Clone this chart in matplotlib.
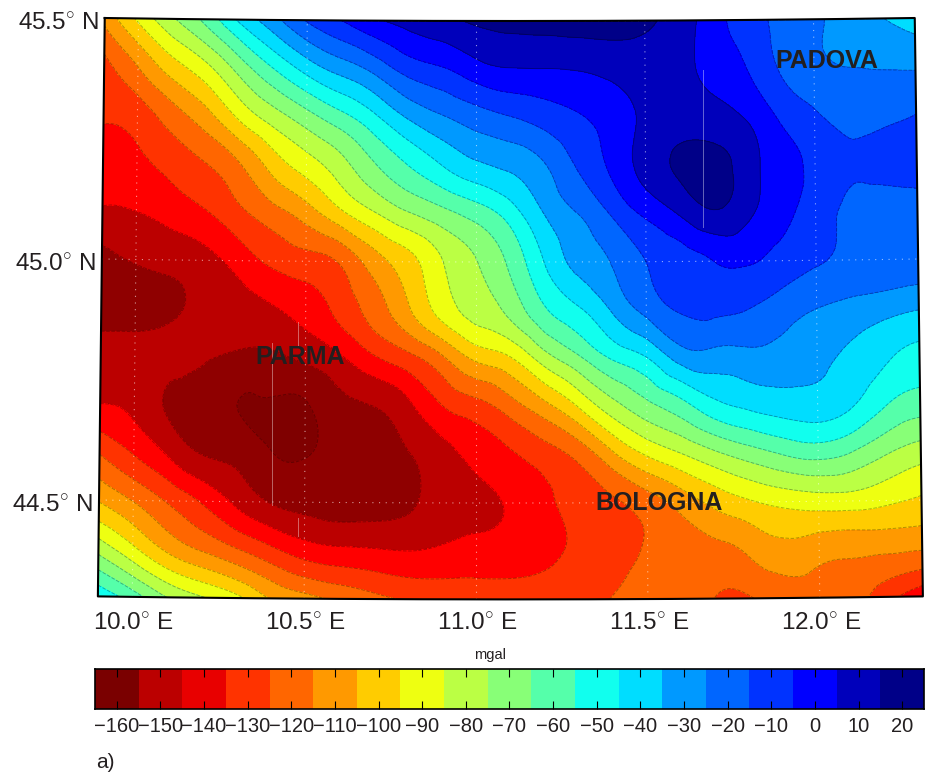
import numpy as np
import matplotlib
matplotlib.use('Agg')
import matplotlib.pyplot as plt
from matplotlib.tri import Triangulation, UniformTriRefiner

plt.rcParams['font.family'] = ['Liberation Sans', 'DejaVu Sans']
plt.rcParams['mathtext.fontset'] = 'custom'
plt.rcParams['mathtext.rm'] = 'Liberation Sans'

# Grid, mgal
lons = [9.9, 10.0, 10.1, 10.2, 10.3, 10.4, 10.5, 10.6, 10.7, 10.8, 10.9, 11.0, 11.1,
        11.2, 11.3, 11.4, 11.5, 11.6, 11.7, 11.8, 11.9, 12.0, 12.1, 12.2, 12.3]
lats = [45.5, 45.4, 45.3, 45.2, 45.1, 45.0, 44.9, 44.8, 44.7, 44.6, 44.5, 44.4, 44.3]

row_455 = [-112, -93, -76.5, -62, -43, -28.5, -14, -5, 3.5, 8.5, 12.5, 16.5, 18, 19, 20, 19, 17, 10, 0, -11, -17, -23, -29, -34.5, -40]
row_454 = [-128, -115, -100, -88, -71, -55, -41, -31, -22, -11, -6, 1, 4.5, 4.8, 5.5, 8, 10, 8, 2, -5, -16, -23, -25, -25.5, -26]
row_453 = [-134, -130.5, -120, -109, -93, -80, -69, -58.5, -47, -34, -26, -20, -15.5, -11, -6, -1, 7, 10.5, 9, 4, -6.5, -13.5, -19, -18, -15]
row_452 = [-140, -137, -132, -125.5, -116, -101, -90, -79, -66, -55, -45, -37, -33, -26, -14, -3, 9, 16.5, 18, 10, -1, -7, -13, -11, -9]
row_451 = [-146, -145, -141, -136, -127.5, -119, -110, -97.5, -86, -76, -68.5, -61, -50.5, -35, -25, -14, -3, 6, 14, 7, -1.5, -10.5, -17, -20, -20]
row_450 = [-158, -154, -152, -148.5, -141, -133, -129, -124, -110, -99, -85.5, -75.5, -63, -45, -32, -24.5, -15, -10, -5, -4, -9, -14, -17, -18, -19]
row_449 = [-159, -158.5, -156.5, -153, -150, -146, -141, -132, -120.5, -106.5, -91, -81, -72, -56.5, -46.5, -34, -22, -14, -12.5, -15, -20, -25, -28, -31, -34]
row_448 = [-152, -152, -153, -154, -156.5, -157, -153, -146.5, -136.5, -128.5, -117, -103, -96, -80, -67, -54, -45.5, -31, -29, -28, -29, -33, -37, -43.5, -48]
row_447 = [-145, -148, -156, -159, -165, -166, -166, -158, -155, -147.5, -135.5, -129, -120, -108.5, -94.5, -79, -68, -59, -48, -43, -40, -39, -44, -54.5, -60]
row_446 = [-126, -136, -146.5, -155.5, -158, -164.5, -165.5, -161, -158, -155.5, -149, -142, -136.5, -130, -122, -107, -94, -85.5, -77, -70, -64, -61, -65.5, -74, -80]
row_445 = [-106, -115.5, -126, -136, -147, -155.5, -158.5, -160, -159, -156.5, -151, -147, -144, -137.5, -131, -126.5, -120, -111, -102, -96, -92, -90, -90, -93, -96.5]
row_444 = [-79, -93, -107, -116, -124, -132.5, -140, -143, -144, -145, -143.5, -142, -141, -137.5, -133, -128.5, -124, -120, -118, -113, -108, -111, -112.5, -113, -114]
row_443 = [-48, -60, -75, -84, -92, -105.5, -111.5, -117, -122, -126, -127.5, -128, -129, -129, -128, -124.5, -121, -119, -125.5, -125.5, -120, -119, -121, -132, -142]

grid_rows = [row_455, row_454, row_453, row_452, row_451, row_450, row_449,
             row_448, row_447, row_446, row_445, row_444, row_443]

# Contour levels and colours
map_levels = [-175, -165, -155, -145, -135, -125, -115, -105, -95, -85, -75, -65, -55,
              -45, -35, -25, -15, -5, 5, 15, 25]
map_colors = ['#7f0000', '#8f0000', '#bb0000', '#ff0000', '#ff3300', '#ff6600', '#ff9900',
              '#ffcc00', '#eeff11', '#bbff44', '#88ff77', '#55ffaa', '#11ffee', '#00ddff',
              '#0099ff', '#0066ff', '#0033ff', '#0000ff', '#0000bb', '#000088']

bar_ticks = [-160, -150, -140, -130, -120, -110, -100, -90, -80, -70, -60, -50, -40,
             -30, -20, -10, 0, 10, 20]
bar_colors = ['#7a0000', '#bb0000', '#e80000', '#ff3300', '#ff6600', '#ff9900', '#ffcc00',
              '#eeff11', '#bbff44', '#88ff77', '#55ffaa', '#11ffee', '#00ddff', '#0099ff',
              '#0066ff', '#0033ff', '#0000ff', '#0000bb', '#000088']

grid_lons = [10.0, 10.5, 11.0, 11.5, 12.0]
grid_lats = [44.5, 45.0, 45.5]


def project(lon, lat):
    # conic-looking map projection, result in figure pixels
    lon = np.asarray(lon, dtype=float)
    lat = np.asarray(lat, dtype=float)
    x = 476 + (lon - 11) * (343.75 - 5.2 * (lat - 44.3))
    y = 259 + 3 * (1 - ((lon - 11.1) / 1.2) ** 2) - (lat - 45) * 482
    return x, y


fig = plt.figure(figsize=(9.28, 7.78), dpi=100)
ax = fig.add_axes([0, 0, 1, 1])
ax.set_xlim(0, 928)
ax.set_ylim(778, 0)
ax.axis('off')

lon2d, lat2d = np.meshgrid(lons, lats)
Z = np.array(grid_rows)

# smooth contouring on the lon/lat grid, then put the mesh on the map
tri = Triangulation(lon2d.ravel(), lat2d.ravel())
tri_fine, z_fine = UniformTriRefiner(tri).refine_field(Z.ravel(), subdiv=3)
px, py = project(tri_fine.x, tri_fine.y)
tri_map = Triangulation(px, py, tri_fine.triangles)

ax.tricontourf(tri_map, z_fine, levels=map_levels, colors=map_colors)
ax.tricontour(tri_map, z_fine, levels=map_levels[1:-1], colors='k', linewidths=0.7, alpha=0.3)

# dotted graticule
for lon in grid_lons:
    la = np.linspace(lats[-1], lats[0], 50)
    px, py = project(np.full_like(la, lon), la)
    ax.plot(px, py, color='white', lw=0.8, ls=(0, (1, 5)), alpha=0.6)
for lat in grid_lats:
    lo = np.linspace(lons[0], lons[-1], 80)
    px, py = project(lo, np.full_like(lo, lat))
    ax.plot(px, py, color='white', lw=0.8, ls=(0, (1, 5)), alpha=0.6)

# thin seams in the filled contours
ax.plot([703, 703], [70, 227], color='white', lw=0.7, alpha=0.4)
ax.plot([272, 272], [343, 505], color='white', lw=0.7, alpha=0.4)
ax.plot([298, 298], [322, 345], color='white', lw=0.7, alpha=0.4)
ax.plot([298, 298], [518, 536], color='white', lw=0.7, alpha=0.4)

# map frame
lo = np.linspace(lons[0], lons[-1], 80)
la = np.linspace(lats[-1], lats[0], 30)
edge_lon = np.concatenate([lo, np.full_like(la, lons[-1]), lo[::-1], np.full_like(la, lons[0])])
edge_lat = np.concatenate([np.full_like(lo, lats[0]), la[::-1], np.full_like(lo, lats[-1]), la])
px, py = project(edge_lon, edge_lat)
ax.plot(px, py, color='k', lw=1.5)

# axis labels
for lon in grid_lons:
    px, py = project(lon, lats[-1])
    ax.text(px - 39, 624, '%.1f$^{\\circ}$ E' % lon, fontsize=17.5, ha='left', va='center', color='#231f20')
for lat in grid_lats:
    px, py = project(lons[0], lat)
    ax.text(px - 6, py + 6, '%.1f$^{\\circ}$ N' % lat, fontsize=17.5, ha='right', va='center', color='#231f20')

# towns
ax.text(827, 61, 'PADOVA', fontsize=18, fontweight='bold', ha='center', va='center', color='#231f20')
ax.text(300, 357, 'PARMA', fontsize=18, fontweight='bold', ha='center', va='center', color='#231f20')
ax.text(659, 503, 'BOLOGNA', fontsize=18, fontweight='bold', ha='center', va='center', color='#231f20')

ax.text(490, 655, 'mgal', fontsize=10.5, ha='center', va='center', color='#231f20')
ax.text(96, 762, 'a)', fontsize=15, ha='left', va='center', color='#231f20')

# colour bar
cax = fig.add_axes([95 / 928, 1 - 709 / 778, (924 - 95) / 928, 40 / 778])
edges = np.arange(bar_ticks[0] - 5, bar_ticks[-1] + 6, 10)
for i in range(len(bar_colors)):
    cax.axvspan(edges[i], edges[i + 1], color=bar_colors[i], lw=0)
cax.set_xlim(edges[0], edges[-1])
cax.set_yticks([])
cax.set_xticks(bar_ticks)
cax.set_xticklabels(['\u2212%d' % abs(t) if t < 0 else '%d' % t for t in bar_ticks], fontsize=14.5, color='#231f20')
cax.tick_params(axis='x', direction='in', top=True, length=6, width=0.8, pad=6)
for s in cax.spines.values():
    s.set_linewidth(1.2)

fig.savefig('out.png', dpi=100)
